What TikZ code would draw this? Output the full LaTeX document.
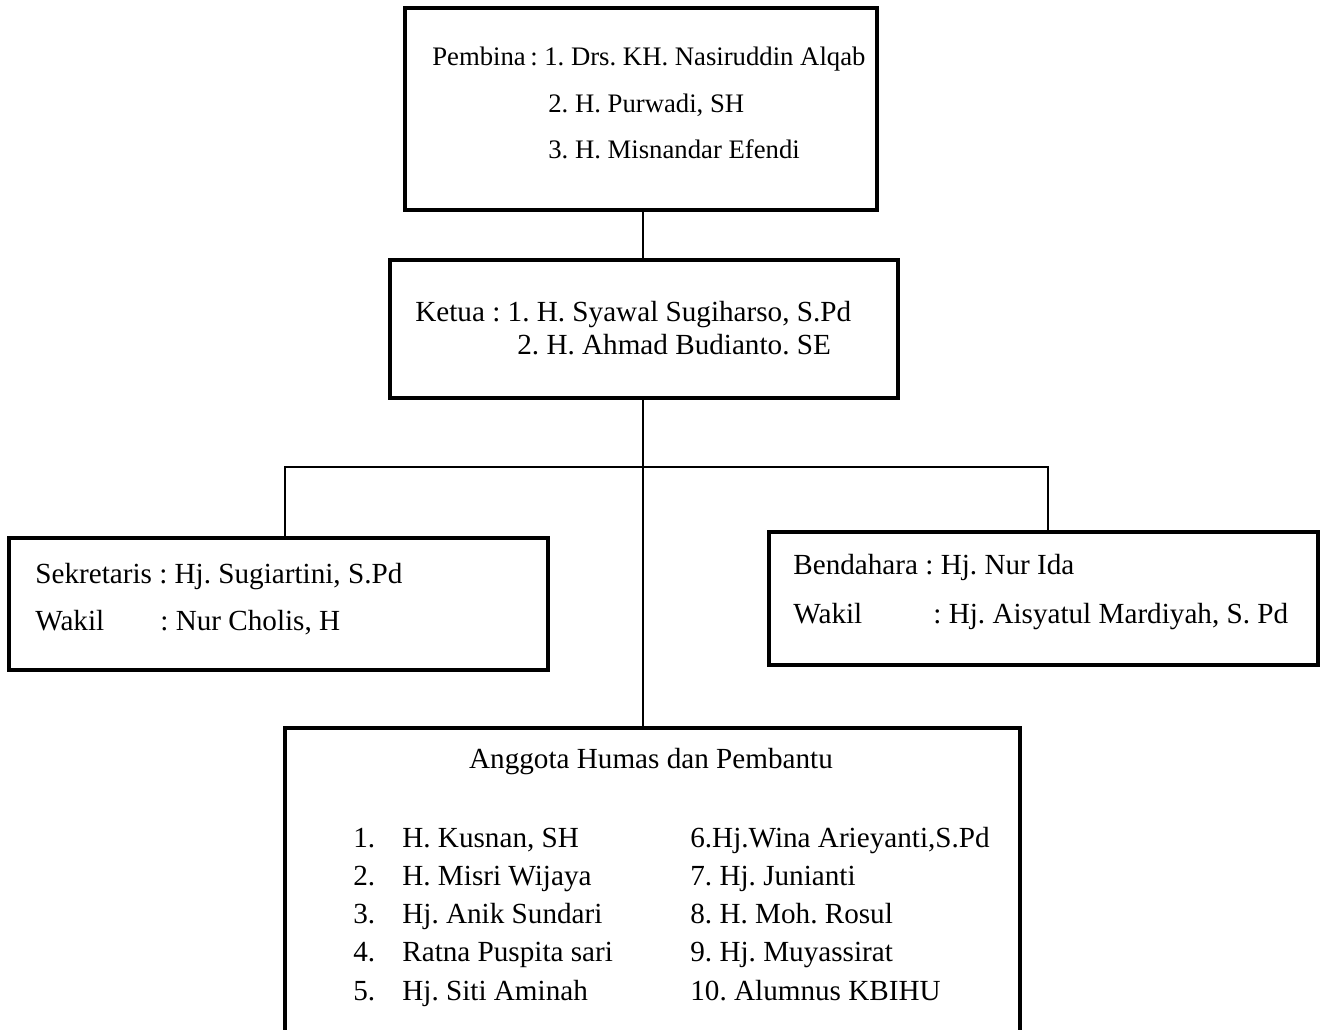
\documentclass[tikz,border=0pt]{standalone}
\usepackage{fontspec}
\setmainfont{Liberation Serif}
\usetikzlibrary{calc}
\frenchspacing

\begin{document}
\begin{tikzpicture}[x=0.02cm,y=-0.02cm,inner sep=0pt,
  box/.style={draw,line width=2.6pt},
  link/.style={line width=0.8pt},
  txt/.style={anchor=base west,font=\fontsize{16.6}{20}\selectfont},
  txtsmall/.style={anchor=base west,font=\fontsize{15.2}{18}\selectfont}]

\fill[white] (0,0) rectangle (1323,1029);
\useasboundingbox (0,0) rectangle (1323,1029);
\clip (0,0) rectangle (1323,1029);

\node[box,minimum width=9.44cm,minimum height=4.04cm] (pembina) at (641,109) {};
\node[box,minimum width=10.16cm,minimum height=2.76cm] (ketua) at (644,329) {};
\node[box,minimum width=10.78cm,minimum height=2.64cm] (sekretaris) at (278.5,604) {};
\node[box,minimum width=10.98cm,minimum height=2.66cm] (bendahara) at (1043.5,598.5) {};
\node[box,minimum width=14.7cm,minimum height=6.24cm] (anggota) at (652.5,884) {};

% pembina
\node[txtsmall] (pb1) at (432,65) {Pembina\,: 1. Drs. KH. Nasiruddin Alqab};
\node[txtsmall] (pb2) at (548,112) {2. H. Purwadi, SH};
\node[txtsmall] (pb3) at (548,158) {3. H. Misnandar Efendi};

% ketua
\node[txt] (kt1) at (415,321) {Ketua : 1. H. Syawal Sugiharso, S.Pd};
\node[txt] (kt2) at (517,354) {2. H. Ahmad Budianto. SE};

% sekretaris
\node[txt] (sk1) at (35,583) {Sekretaris : Hj. Sugiartini, S.Pd};
\node[txt] (sk2) at (35,630) {Wakil};
\node[txt] (sk3) at (160,630) {: Nur Cholis, H};

% bendahara
\node[txt] (bd1) at (793,574) {Bendahara : Hj. Nur Ida};
\node[txt] (bd2) at (793,623) {Wakil};
\node[txt] (bd3) at (933,623) {: Hj. Aisyatul Mardiyah, S. Pd};

% anggota
\node[txt,anchor=base] (ag) at (651,768) {Anggota Humas dan Pembantu};
\node[txt] (n1) at (353,847) {1.};
\node[txt] (a1) at (402,847) {H. Kusnan, SH};
\node[txt] (n2) at (353,885) {2.};
\node[txt] (a2) at (402,885) {H. Misri Wijaya};
\node[txt] (n3) at (353,923) {3.};
\node[txt] (a3) at (402,923) {Hj. Anik Sundari};
\node[txt] (n4) at (353,961) {4.};
\node[txt] (a4) at (402,961) {Ratna Puspita sari};
\node[txt] (n5) at (353,1000) {5.};
\node[txt] (a5) at (402,1000) {Hj. Siti Aminah};
\node[txt] (a6) at (690,847) {6.Hj.Wina Arieyanti,S.Pd};
\node[txt] (a7) at (690,885) {7. Hj. Junianti};
\node[txt] (a8) at (690,923) {8. H. Moh. Rosul};
\node[txt] (a9) at (690,961) {9. Hj. Muyassirat};
\node[txt] (a10) at (690,1000) {10. Alumnus KBIHU};

% connectors
\coordinate (fork) at (643,467);
\coordinate (forkL) at (285,467);
\coordinate (forkR) at (1048,467);
\draw[link] (pembina.south -| fork) -- (ketua.north -| fork);
\draw[link] (ketua.south -| fork) -- (anggota.north -| fork);
\draw[link] (sekretaris.north -| forkL) -- (forkL) -- (forkR) -- (bendahara.north -| forkR);

\end{tikzpicture}
\end{document}
